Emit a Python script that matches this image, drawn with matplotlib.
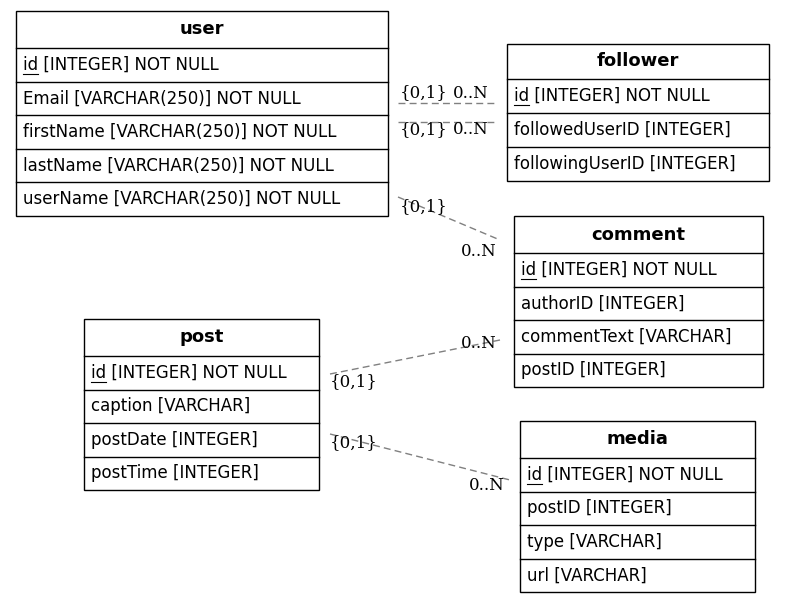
import matplotlib.pyplot as plt
from matplotlib.patches import Rectangle

W, H = 785, 603

# table contents
user_rows = ["id [INTEGER] NOT NULL", "Email [VARCHAR(250)] NOT NULL",
             "firstName [VARCHAR(250)] NOT NULL", "lastName [VARCHAR(250)] NOT NULL",
             "userName [VARCHAR(250)] NOT NULL"]
follower_rows = ["id [INTEGER] NOT NULL", "followedUserID [INTEGER]",
                 "followingUserID [INTEGER]"]
comment_rows = ["id [INTEGER] NOT NULL", "authorID [INTEGER]",
                "commentText [VARCHAR]", "postID [INTEGER]"]
post_rows = ["id [INTEGER] NOT NULL", "caption [VARCHAR]",
             "postDate [INTEGER]", "postTime [INTEGER]"]
media_rows = ["id [INTEGER] NOT NULL", "postID [INTEGER]",
              "type [VARCHAR]", "url [VARCHAR]"]

tables = {"user": user_rows, "follower": follower_rows, "comment": comment_rows,
          "post": post_rows, "media": media_rows}

# layout in pixels: left, top, right, header height, row height
layout = {
    "user": (16, 11, 388, 37, 33.5),
    "follower": (507, 44, 769, 35, 34),
    "comment": (514, 216, 763, 37, 33.5),
    "post": (84, 319, 319, 37, 33.5),
    "media": (520, 421, 755, 37, 33.5),
}

# relationship edges: start, end, label positions (left edges)
edges = [
    ((398, 103), (497, 103), (400, 93), (453, 93)),
    ((398, 122), (497, 122), (400, 130), (453, 130)),
    ((398, 197), (500, 240), (400, 207), (461, 252)),
    ((330, 374), (500, 340), (330, 382), (461, 343)),
    ((330, 434), (510, 480), (330, 443), (469, 486)),
]

fig = plt.figure(figsize=(7.85, 6.03), dpi=100)
ax = fig.add_axes([0, 0, 1, 1])
ax.set_xlim(0, W)
ax.set_ylim(H, 0)
ax.axis("off")

id_texts = []
for name, rows in tables.items():
    x0, y0, x1, hh, rh = layout[name]
    total = hh + rh * len(rows)
    ax.add_patch(Rectangle((x0, y0), x1 - x0, total, fill=False, lw=1, ec="black"))
    ax.text((x0 + x1) / 2, y0 + hh / 2, name, ha="center", va="center",
            fontsize=13, fontweight="bold")
    for i, r in enumerate(rows):
        ry = y0 + hh + i * rh
        ax.plot([x0, x1], [ry, ry], color="black", lw=1)
        ax.text(x0 + 7, ry + rh / 2, r, ha="left", va="center", fontsize=12)
        if r.startswith("id "):
            t = ax.text(x0 + 7, ry + rh / 2, "id", ha="left", va="center",
                        fontsize=12, alpha=0)
            id_texts.append((t, ry + rh / 2 + 9))

fig.canvas.draw()
inv = ax.transData.inverted()
for t, uy in id_texts:
    bb = t.get_window_extent()
    (a, _), (b, _) = inv.transform([(bb.x0, 0), (bb.x1, 0)])
    ax.plot([a, b], [uy, uy], color="black", lw=0.8)

for p0, p1, l0, l1 in edges:
    ax.plot([p0[0], p1[0]], [p0[1], p1[1]], color="gray", lw=1, ls=(0, (5, 3)))
    ax.text(l0[0], l0[1], "{0,1}", family="DejaVu Serif", fontsize=12,
            ha="left", va="center")
    ax.text(l1[0], l1[1], "0..N", family="DejaVu Serif", fontsize=12,
            ha="left", va="center")

fig.savefig("out.png", dpi=100)
